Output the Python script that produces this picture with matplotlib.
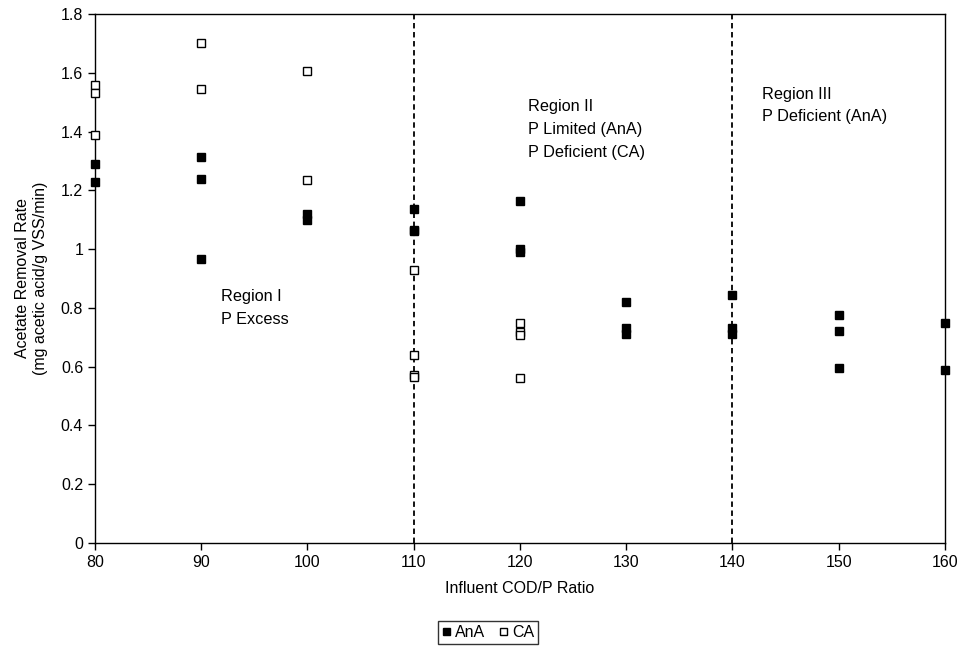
import matplotlib
matplotlib.use("Agg")
import matplotlib.pyplot as plt
from matplotlib.ticker import FuncFormatter

plt.rcParams['font.family'] = ['Liberation Sans', 'DejaVu Sans']

ana_x = [80, 80, 90, 90, 90, 100, 100, 110, 110, 110, 120, 120, 120,
         130, 130, 130, 140, 140, 140, 150, 150, 150, 160, 160]
ana_y = [1.29, 1.23, 1.315, 1.24, 0.965, 1.12, 1.10, 1.137, 1.065, 1.06, 1.165, 1.0, 0.99,
         0.82, 0.73, 0.71, 0.845, 0.73, 0.71, 0.775, 0.72, 0.595, 0.75, 0.59]

ca_x = [80, 80, 80, 90, 90, 100, 100, 110, 110, 110, 110, 120, 120, 120, 120]
ca_y = [1.56, 1.53, 1.387, 1.70, 1.545, 1.605, 1.235, 0.928, 0.638, 0.572, 0.565,
        0.748, 0.718, 0.708, 0.56]

region_lines = [110, 140]
x_ticks = [80, 90, 100, 110, 120, 130, 140, 150, 160]
y_ticks = [0, 0.2, 0.4, 0.6, 0.8, 1.0, 1.2, 1.4, 1.6, 1.8]

FS = 11.5
RFS = 11.7

fig = plt.figure(figsize=(9.72, 6.5), dpi=100)
ax = fig.add_axes([0.0977, 0.1646, 0.8745, 0.8139])

for xv in region_lines:
    ax.axvline(xv, color='black', linestyle=(0, (3, 2)), linewidth=1.3, zorder=1)

ax.plot(ana_x, ana_y, linestyle='none', marker='s', markersize=6.3,
        markerfacecolor='black', markeredgecolor='black', label='AnA', zorder=3, clip_on=False)
ax.plot(ca_x, ca_y, linestyle='none', marker='s', markersize=6.3,
        markerfacecolor='white', markeredgecolor='black', markeredgewidth=1.0,
        label='CA', zorder=3, clip_on=False)

ax.set_xlim(80, 160)
ax.set_ylim(0, 1.8)
ax.set_xticks(x_ticks)
ax.set_yticks(y_ticks)
ax.yaxis.set_major_formatter(FuncFormatter(lambda v, p: f"{v:g}"))
ax.tick_params(direction='out', length=5, labelsize=FS, width=1)
for s in ax.spines.values():
    s.set_linewidth(1.0)

ax.set_xlabel('Influent COD/P Ratio', fontsize=FS, labelpad=8)
ax.set_ylabel('Acetate Removal Rate\n(mg acetic acid/g VSS/min)', fontsize=FS, labelpad=9,
              linespacing=1.25)

ax.text(91.9, 0.865, 'Region I\nP Excess', fontsize=RFS, va='top', ha='left', linespacing=1.65)
ax.text(120.75, 1.51, 'Region II\nP Limited (AnA)\nP Deficient (CA)', fontsize=RFS,
        va='top', ha='left', linespacing=1.65)
ax.text(142.75, 1.553, 'Region III\nP Deficient (AnA)', fontsize=RFS, va='top', ha='left',
        linespacing=1.65)

leg = fig.legend(loc='center', bbox_to_anchor=(0.502, 0.027), ncol=2, frameon=True,
                 fancybox=False, edgecolor='black', fontsize=FS, handlelength=0.5,
                 handletextpad=0.3, columnspacing=0.9, borderpad=0.25, markerscale=0.8)
leg.get_frame().set_linewidth(1.0)

fig.savefig('out.png', dpi=100)
